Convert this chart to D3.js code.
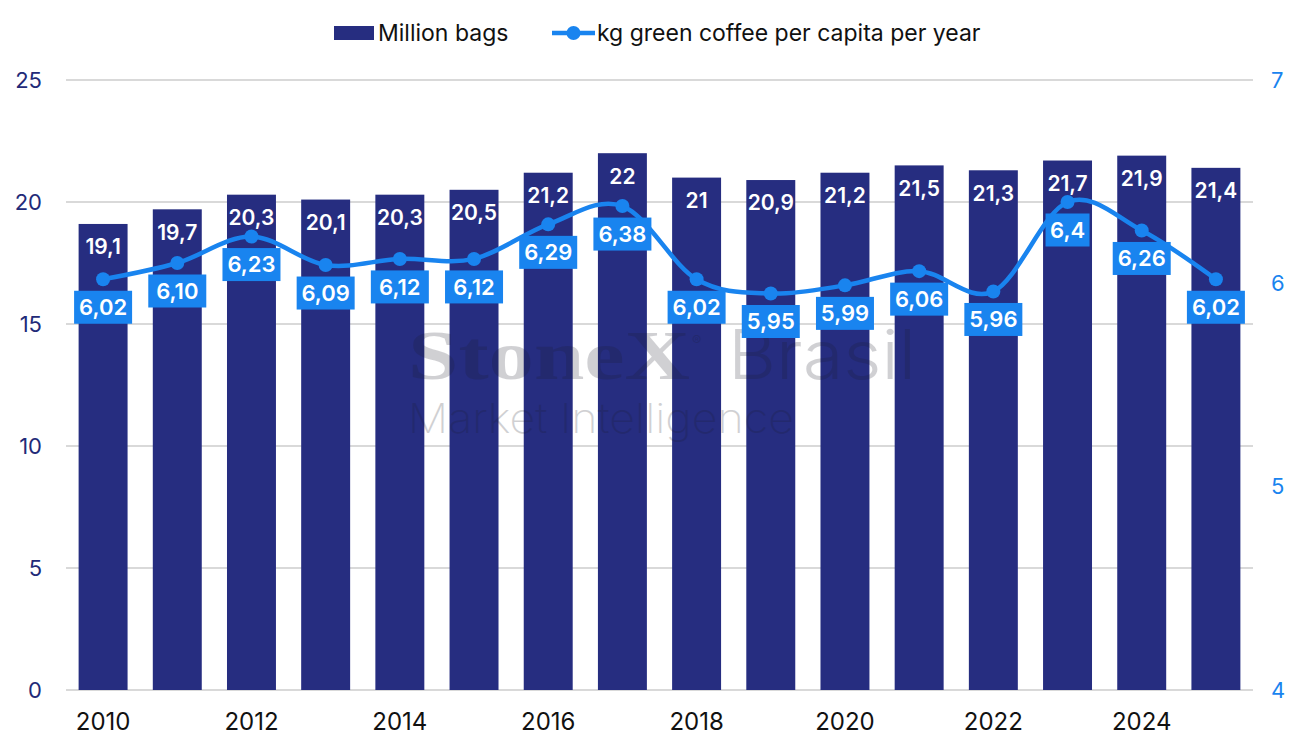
<!DOCTYPE html>
<html>
<head>
<meta charset="utf-8">
<script src="https://cdn.jsdelivr.net/npm/d3@7"></script>
<style>
  body { margin: 0; background: #fff; }
  svg { display: block; font-family: Inter, "Noto Sans", sans-serif; }
</style>
</head>
<body>
<div id="chart"></div>
<script>
// Data
const years = ["2010", "2011", "2012", "2013", "2014", "2015", "2016", "2017",
               "2018", "2019", "2020", "2021", "2022", "2023", "2024", "2025"];
const bags = [19.1, 19.7, 20.3, 20.1, 20.3, 20.5, 21.2, 22, 21, 20.9, 21.2, 21.5, 21.3, 21.7, 21.9, 21.4];
const perCapita = [6.02, 6.10, 6.23, 6.09, 6.12, 6.12, 6.29, 6.38, 6.02, 5.95, 5.99, 6.06, 5.96, 6.4, 6.26, 6.02];
const perCapitaLabels = ["6,02", "6,10", "6,23", "6,09", "6,12", "6,12", "6,29", "6,38",
                         "6,02", "5,95", "5,99", "6,06", "5,96", "6,4", "6,26", "6,02"];
const leftTicks = [0, 5, 10, 15, 20, 25];
const rightTicks = [4, 5, 6, 7];
const yearTicks = ["2010", "2012", "2014", "2016", "2018", "2020", "2022", "2024"];

const width = 1304, height = 751;
const navy = "#262d80", blue = "#1984ef";
const x0 = 66, x1 = 1253, yBottom = 690, yTop = 80;

const svg = d3.select("#chart")
    .append("svg")
    .attr("width", width)
    .attr("height", height);

const x = d3.scaleBand()
    .domain(years)
    .range([x0, x1])
    .paddingInner(0.34)
    .paddingOuter(0.17);

const yLeft = d3.scaleLinear().domain([0, 25]).range([yBottom, yTop]);
const yRight = d3.scaleLinear().domain([4, 7]).range([yBottom, yTop]);

// Gridlines
svg.append("g")
    .selectAll("line")
    .data(leftTicks)
    .enter()
    .append("line")
    .attr("x1", x0)
    .attr("x2", x1)
    .attr("y1", d => yLeft(d))
    .attr("y2", d => yLeft(d))
    .style("stroke", "#d9d9d9")
    .style("stroke-width", "2px");

// Left axis
const leftAxis = svg.append("g")
    .attr("transform", `translate(${x0 - 24},0)`)
    .call(d3.axisLeft(yLeft).tickValues(leftTicks).tickSize(0).tickPadding(0));
leftAxis.select(".domain").remove();
leftAxis.selectAll("text")
    .style("font-size", "22px")
    .style("fill", "#222a78")
    .attr("font-family", "Inter, sans-serif");

// Right axis
const rightAxis = svg.append("g")
    .attr("transform", `translate(${x1 + 18},0)`)
    .call(d3.axisRight(yRight).tickValues(rightTicks).tickFormat(d3.format("d")).tickSize(0).tickPadding(0));
rightAxis.select(".domain").remove();
rightAxis.selectAll("text")
    .style("font-size", "22px")
    .style("fill", blue)
    .attr("font-family", "Inter, sans-serif");

// Bottom axis
const bottomAxis = svg.append("g")
    .attr("transform", `translate(0,${yBottom + 23})`)
    .call(d3.axisBottom(x).tickValues(yearTicks).tickSize(0).tickPadding(0));
bottomAxis.select(".domain").remove();
bottomAxis.selectAll("text")
    .style("font-size", "24px")
    .style("fill", "#111")
    .attr("font-family", "Inter, sans-serif");

// Bars
svg.append("g")
    .selectAll("rect")
    .data(bags)
    .enter()
    .append("rect")
    .attr("x", (d, i) => x(years[i]))
    .attr("y", d => yLeft(d))
    .attr("width", x.bandwidth())
    .attr("height", d => yBottom - yLeft(d))
    .style("fill", navy);

// Watermark
const wm = svg.append("g").style("fill", "#1a1a2a").style("opacity", 0.2);
wm.append("text")
    .attr("x", 408).attr("y", 379)
    .attr("font-family", "Liberation Serif, serif")
    .attr("font-weight", "bold")
    .attr("font-size", 70)
    .attr("textLength", 282)
    .attr("lengthAdjust", "spacingAndGlyphs")
    .text("StoneX");
wm.append("text")
    .attr("x", 692).attr("y", 346)
    .attr("font-size", 14)
    .text("®");
wm.append("text")
    .attr("x", 728).attr("y", 379)
    .attr("font-weight", 300)
    .attr("font-size", 68)
    .attr("textLength", 188)
    .attr("lengthAdjust", "spacingAndGlyphs")
    .text("Brasil");
wm.append("text")
    .attr("x", 408).attr("y", 433)
    .attr("font-weight", 200)
    .attr("font-size", 41)
    .attr("textLength", 386)
    .attr("lengthAdjust", "spacingAndGlyphs")
    .text("Market Intelligence");

// Bar labels
svg.append("g")
    .selectAll("text")
    .data(bags)
    .enter()
    .append("text")
    .attr("x", (d, i) => x(years[i]) + x.bandwidth() / 2)
    .attr("y", d => yLeft(d) + 23)
    .attr("text-anchor", "middle")
    .attr("dy", ".35em")
    .text(d => String(d).replace(".", ","))
    .style("fill", "#fff")
    .style("font-weight", "600")
    .style("font-size", "21px");

// Line
const cx = i => x(years[i]) + x.bandwidth() / 2;
const line = d3.line()
    .x((d, i) => cx(i))
    .y(d => yRight(d))
    .curve(d3.curveCatmullRom.alpha(0));

svg.append("path")
    .datum(perCapita)
    .attr("d", line)
    .style("fill", "none")
    .style("stroke", blue)
    .style("stroke-width", "4.5px");

svg.append("g")
    .selectAll("circle")
    .data(perCapita)
    .enter()
    .append("circle")
    .attr("cx", (d, i) => cx(i))
    .attr("cy", d => yRight(d))
    .attr("r", 7)
    .style("fill", blue);

// Line labels with boxes
const lbl = svg.append("g")
    .selectAll("g")
    .data(perCapita)
    .enter()
    .append("g")
    .attr("transform", (d, i) => `translate(${cx(i)},${yRight(d) + 28})`);

lbl.append("rect")
    .attr("x", (d, i) => perCapitaLabels[i].length > 3 ? -29 : -22)
    .attr("y", -16.5)
    .attr("width", (d, i) => perCapitaLabels[i].length > 3 ? 58 : 44)
    .attr("height", 33)
    .style("fill", blue);

lbl.append("text")
    .attr("text-anchor", "middle")
    .attr("dy", ".36em")
    .text((d, i) => perCapitaLabels[i])
    .style("fill", "#fff")
    .style("font-weight", "600")
    .style("font-size", "22px");

// Legend
const legend = svg.append("g").attr("transform", "translate(0,33)");
legend.append("rect")
    .attr("x", 334).attr("y", -7)
    .attr("width", 40).attr("height", 14)
    .style("fill", navy);
legend.append("text")
    .attr("x", 378).attr("dy", ".35em")
    .style("font-size", "23px")
    .style("fill", "#111")
    .text("Million bags");
legend.append("line")
    .attr("x1", 552).attr("x2", 595)
    .style("stroke", blue)
    .style("stroke-width", "4.5px");
legend.append("circle")
    .attr("cx", 573.5).attr("r", 7)
    .style("fill", blue);
legend.append("text")
    .attr("x", 597).attr("dy", ".35em")
    .style("font-size", "23px")
    .style("fill", "#111")
    .text("kg green coffee per capita per year");
</script>
</body>
</html>
